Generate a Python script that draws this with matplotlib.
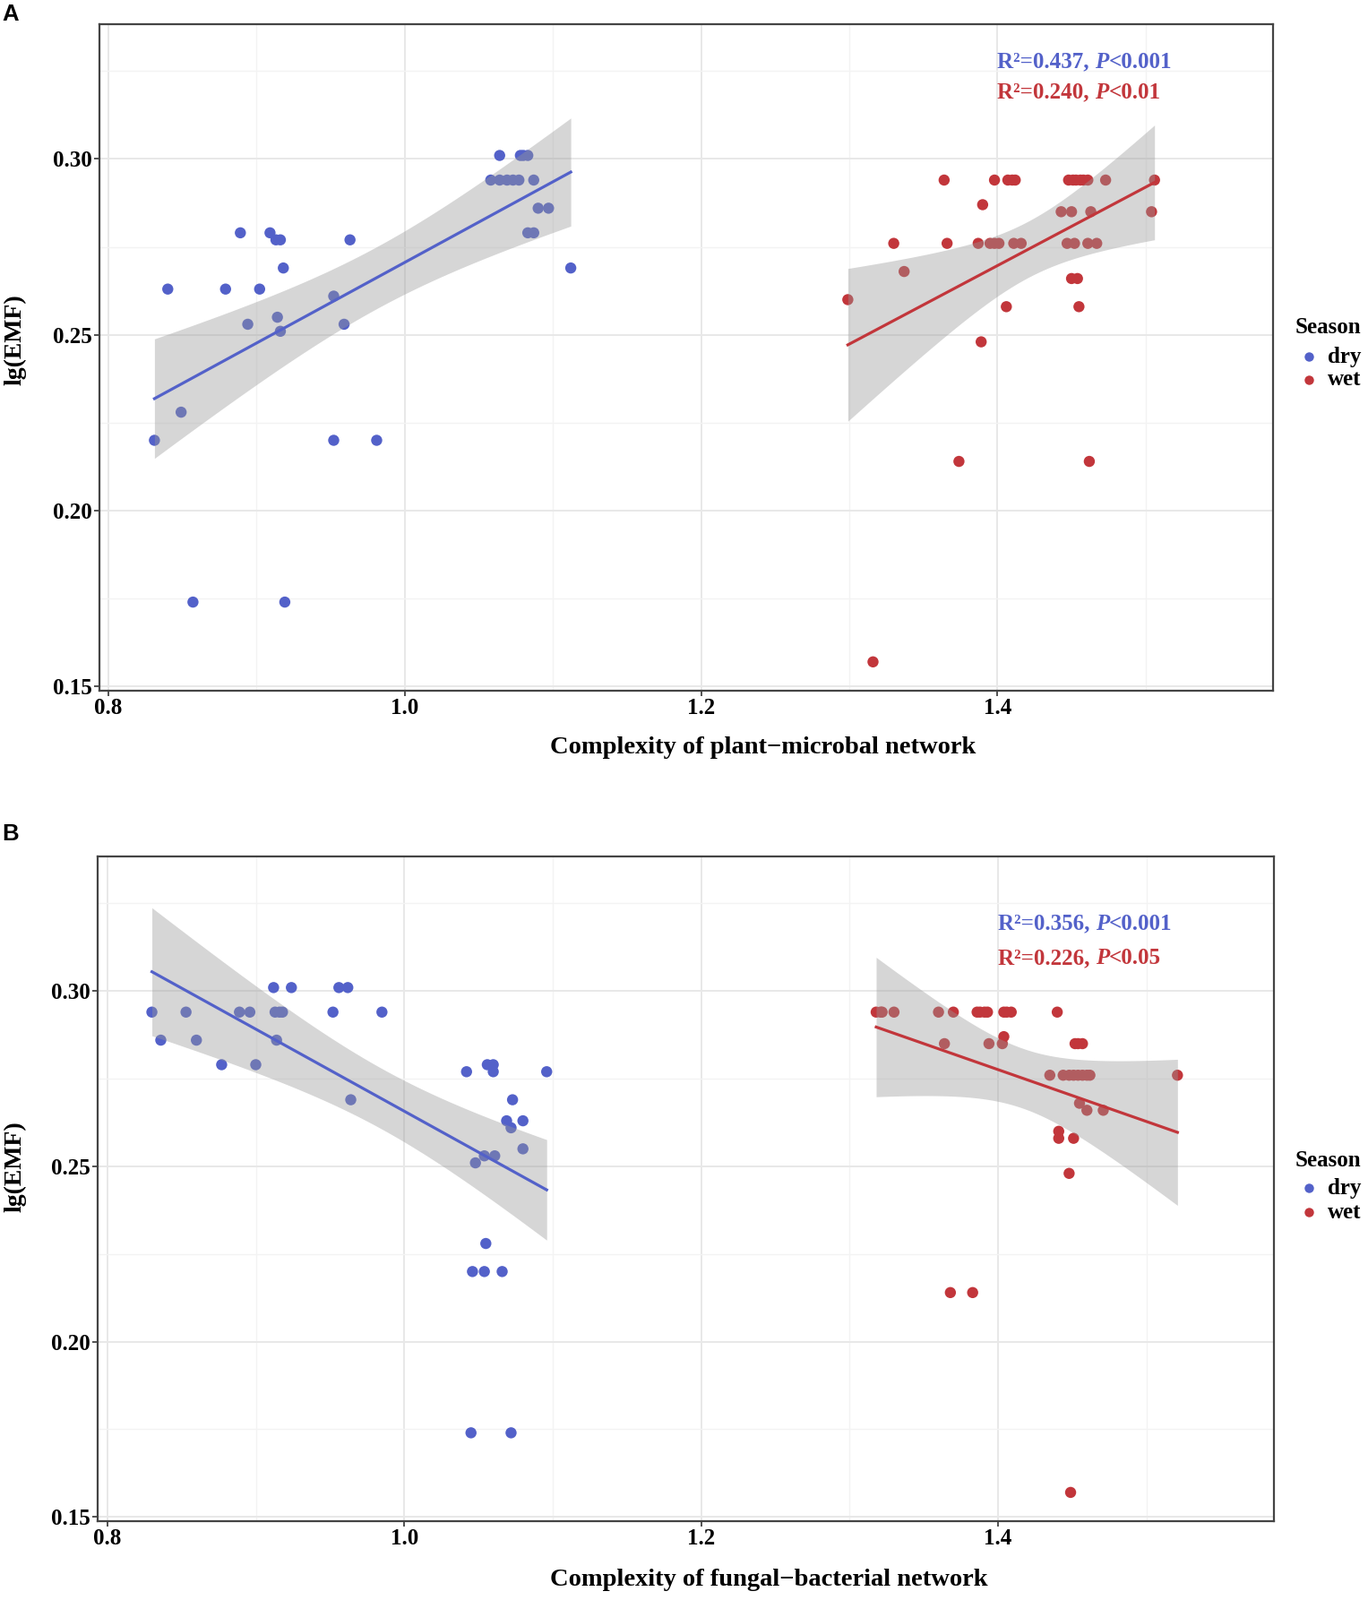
import numpy as np
import matplotlib
matplotlib.use('Agg')
import matplotlib.pyplot as plt
from matplotlib.lines import Line2D

# ---------------- data ----------------
A_dry_x = [0.831, 0.840, 0.849, 0.857, 0.879, 0.889, 0.894, 0.902, 0.909, 0.913,
           0.916, 0.914, 0.916, 0.918, 0.919, 0.952, 0.952, 0.959, 0.963, 0.981,
           1.064, 1.078, 1.080, 1.083, 1.058, 1.064, 1.069, 1.073, 1.077, 1.087,
           1.090, 1.097, 1.083, 1.087, 1.112]
A_dry_y = [0.220, 0.263, 0.228, 0.174, 0.263, 0.279, 0.253, 0.263, 0.279, 0.277,
           0.277, 0.255, 0.251, 0.269, 0.174, 0.261, 0.220, 0.253, 0.277, 0.220,
           0.301, 0.301, 0.301, 0.301, 0.294, 0.294, 0.294, 0.294, 0.294, 0.294,
           0.286, 0.286, 0.279, 0.279, 0.269]

A_wet_x = [1.299, 1.316, 1.330, 1.337, 1.364, 1.366, 1.374, 1.387, 1.389, 1.390,
           1.395, 1.398, 1.401, 1.398, 1.406, 1.407, 1.410, 1.412, 1.411, 1.416,
           1.443, 1.450, 1.447, 1.452, 1.448, 1.451, 1.453, 1.456, 1.458, 1.461,
           1.450, 1.454, 1.455, 1.462, 1.461, 1.467, 1.463, 1.473, 1.504, 1.506]
A_wet_y = [0.260, 0.157, 0.276, 0.268, 0.294, 0.276, 0.214, 0.276, 0.248, 0.287,
           0.276, 0.276, 0.276, 0.294, 0.258, 0.294, 0.294, 0.294, 0.276, 0.276,
           0.285, 0.285, 0.276, 0.276, 0.294, 0.294, 0.294, 0.294, 0.294, 0.294,
           0.266, 0.266, 0.258, 0.214, 0.276, 0.276, 0.285, 0.294, 0.285, 0.294]

B_dry_x = [0.830, 0.836, 0.853, 0.860, 0.877, 0.889, 0.896, 0.900, 0.912, 0.913,
           0.916, 0.918, 0.914, 0.924, 0.952, 0.956, 0.962, 0.964, 0.985, 1.042,
           1.056, 1.060, 1.060, 1.073, 1.069, 1.080, 1.072, 1.080, 1.054, 1.061,
           1.048, 1.096, 1.055, 1.046, 1.054, 1.066, 1.045, 1.072]
B_dry_y = [0.294, 0.286, 0.294, 0.286, 0.279, 0.294, 0.294, 0.279, 0.301, 0.294,
           0.294, 0.294, 0.286, 0.301, 0.294, 0.301, 0.301, 0.269, 0.294, 0.277,
           0.279, 0.279, 0.277, 0.269, 0.263, 0.263, 0.261, 0.255, 0.253, 0.253,
           0.251, 0.277, 0.228, 0.220, 0.220, 0.220, 0.174, 0.174]

B_wet_x = [1.318, 1.321, 1.322, 1.330, 1.360, 1.370, 1.386, 1.388, 1.391, 1.393,
           1.404, 1.406, 1.409, 1.440, 1.364, 1.394, 1.403, 1.404, 1.452, 1.454,
           1.457, 1.435, 1.444, 1.448, 1.451, 1.454, 1.457, 1.460, 1.462, 1.521,
           1.455, 1.460, 1.471, 1.441, 1.441, 1.451, 1.448, 1.368, 1.383, 1.449]
B_wet_y = [0.294, 0.294, 0.294, 0.294, 0.294, 0.294, 0.294, 0.294, 0.294, 0.294,
           0.294, 0.294, 0.294, 0.294, 0.285, 0.285, 0.285, 0.287, 0.285, 0.285,
           0.285, 0.276, 0.276, 0.276, 0.276, 0.276, 0.276, 0.276, 0.276, 0.276,
           0.268, 0.266, 0.266, 0.260, 0.258, 0.258, 0.248, 0.214, 0.214, 0.157]

x_ticks = [0.8, 1.0, 1.2, 1.4]
x_tick_labels = ['0.8', '1.0', '1.2', '1.4']
y_ticks = [0.15, 0.20, 0.25, 0.30]
y_tick_labels = ['0.15', '0.20', '0.25', '0.30']
seasons = ['dry', 'wet']

A_stats = [("R\u00b2=0.437, ", "P", "<0.001"), ("R\u00b2=0.240, ", "P", "<0.01")]
B_stats = [("R\u00b2=0.356, ", "P", "<0.001"), ("R\u00b2=0.226, ", "P", "<0.05")]
A_xlabel = "Complexity of plant\u2212microbal network"
B_xlabel = "Complexity of fungal\u2212bacterial network"
ylabel = "lg(EMF)"

# ---------------- style ----------------
BLUE = '#5361C9'
RED = '#C2363B'
SERIF = 'Liberation Serif'
plt.rcParams['font.family'] = [SERIF, 'DejaVu Serif']
plt.rcParams['font.weight'] = 'bold'

W, H = 1527, 1786
fig = plt.figure(figsize=(W / 100, H / 100), dpi=100)


def tq(df):
    z = 1.959964
    return (z + (z**3 + z) / (4 * df) + (5 * z**5 + 16 * z**3 + 3 * z) / (96 * df**2)
            + (3 * z**7 + 19 * z**5 + 17 * z**3 - 15 * z) / (384 * df**3))


def fit_band(x, y, n=100):
    x = np.asarray(x, float)
    y = np.asarray(y, float)
    b, a = np.polyfit(x, y, 1)
    xs = np.linspace(x.min(), x.max(), n)
    yhat = a + b * xs
    resid = y - (a + b * x)
    dof = len(x) - 2
    s = np.sqrt(np.sum(resid**2) / dof)
    se = s * np.sqrt(1 / len(x) + (xs - x.mean())**2 / np.sum((x - x.mean())**2))
    t = tq(dof)
    return xs, yhat, yhat - t * se, yhat + t * se


def px_axes(l, t, r, b):
    return [l / W, 1 - b / H, (r - l) / W, (b - t) / H]


def rich(ax, x, y, parts, color, size):
    txt = ax.text(x, y, parts[0], color=color, fontsize=size, fontweight='bold',
                  va='center', ha='left', family=SERIF, zorder=6)
    txt = ax.annotate(parts[1], xy=(1, 0), xycoords=txt, va='bottom', ha='left',
                      color=color, fontsize=size, fontweight='bold', style='italic',
                      family=SERIF, zorder=6)
    ax.annotate(parts[2], xy=(1, 0), xycoords=txt, va='bottom', ha='left',
                color=color, fontsize=size, fontweight='bold', family=SERIF, zorder=6)


def fx(px):
    return px / W


def fy(py):
    return 1 - py / H


def panel(rect, dry_x, dry_y, wet_x, wet_y, stats, stat_y, xlabel, xlabel_xy,
          ylabel_xy, letter_xy, letter, legend_rows):
    ax = fig.add_axes(px_axes(*rect))
    ax.set_xlim(0.7937, 1.586)
    ax.set_ylim(0.1488, 0.3384)
    ax.set_xticks(x_ticks)
    ax.set_xticklabels(x_tick_labels)
    ax.set_yticks(y_ticks)
    ax.set_yticklabels(y_tick_labels)
    ax.set_xticks([0.9, 1.1, 1.3, 1.5], minor=True)
    ax.set_yticks([0.175, 0.225, 0.275, 0.325], minor=True)
    ax.grid(True, which='major', color='#E8E8E8', lw=1.4, zorder=0)
    ax.grid(True, which='minor', color='#F3F3F3', lw=1.0, zorder=0)
    ax.set_axisbelow(True)
    ax.tick_params(which='minor', length=0)
    ax.tick_params(which='major', length=4, width=1.2, color='#333333', pad=2,
                   labelsize=18, labelcolor='black')
    for lab in ax.get_xticklabels() + ax.get_yticklabels():
        lab.set_fontweight('bold')
        lab.set_family(SERIF)
    for sp in ax.spines.values():
        sp.set_color('#444444')
        sp.set_linewidth(1.6)

    for xs_, ys_, col in ((dry_x, dry_y, BLUE), (wet_x, wet_y, RED)):
        ax.scatter(xs_, ys_, s=80, color=col, edgecolors='none', zorder=2)
    for xs_, ys_, col in ((dry_x, dry_y, BLUE), (wet_x, wet_y, RED)):
        fxs, fys, lo, hi = fit_band(xs_, ys_)
        ax.fill_between(fxs, lo, hi, color='#999999', alpha=0.4, lw=0, zorder=3)
        ax.plot(fxs, fys, color=col, lw=2.3, zorder=4)

    rich(ax, 1.4, stat_y[0], stats[0], BLUE, 18)
    rich(ax, 1.4, stat_y[1], stats[1], RED, 18)

    fig.text(fx(xlabel_xy[0]), fy(xlabel_xy[1]), xlabel, ha='center', va='center',
             fontsize=20.5, fontweight='bold', family=SERIF)
    fig.text(fx(ylabel_xy[0]), fy(ylabel_xy[1]), ylabel, ha='center', va='center',
             rotation=90, fontsize=20, fontweight='bold', family=SERIF)
    fig.text(fx(letter_xy[0]), fy(letter_xy[1]), letter, ha='left', va='center',
             fontsize=18.5, fontweight='bold', family='Liberation Sans')

    # legend: title + two keyed rows
    t_y, d_y, w_y = legend_rows
    fig.text(fx(1446), fy(t_y), 'Season', ha='left', va='center', fontsize=18,
             fontweight='bold', family=SERIF)
    for lab, col, yy in ((seasons[0], BLUE, d_y), (seasons[1], RED, w_y)):
        fig.add_artist(Line2D([fx(1461)], [fy(yy)], transform=fig.transFigure,
                              marker='o', ls='none', color=col, markersize=7.5,
                              markeredgewidth=0))
        fig.text(fx(1482), fy(yy), lab, ha='left', va='center', fontsize=18,
                 fontweight='bold', family=SERIF)
    return ax


panel((110.7, 26.7, 1421, 771), A_dry_x, A_dry_y, A_wet_x, A_wet_y, A_stats,
      (0.3276, 0.3189), A_xlabel, (852, 834), (17, 379), (2, 16), 'A',
      (366, 398, 424))
panel((109.4, 956, 1422, 1698), B_dry_x, B_dry_y, B_wet_x, B_wet_y, B_stats,
      (0.3192, 0.3093), B_xlabel, (858, 1764), (17, 1302), (2, 931), 'B',
      (1295, 1326, 1353))

fig.savefig('out.png', dpi=100)
